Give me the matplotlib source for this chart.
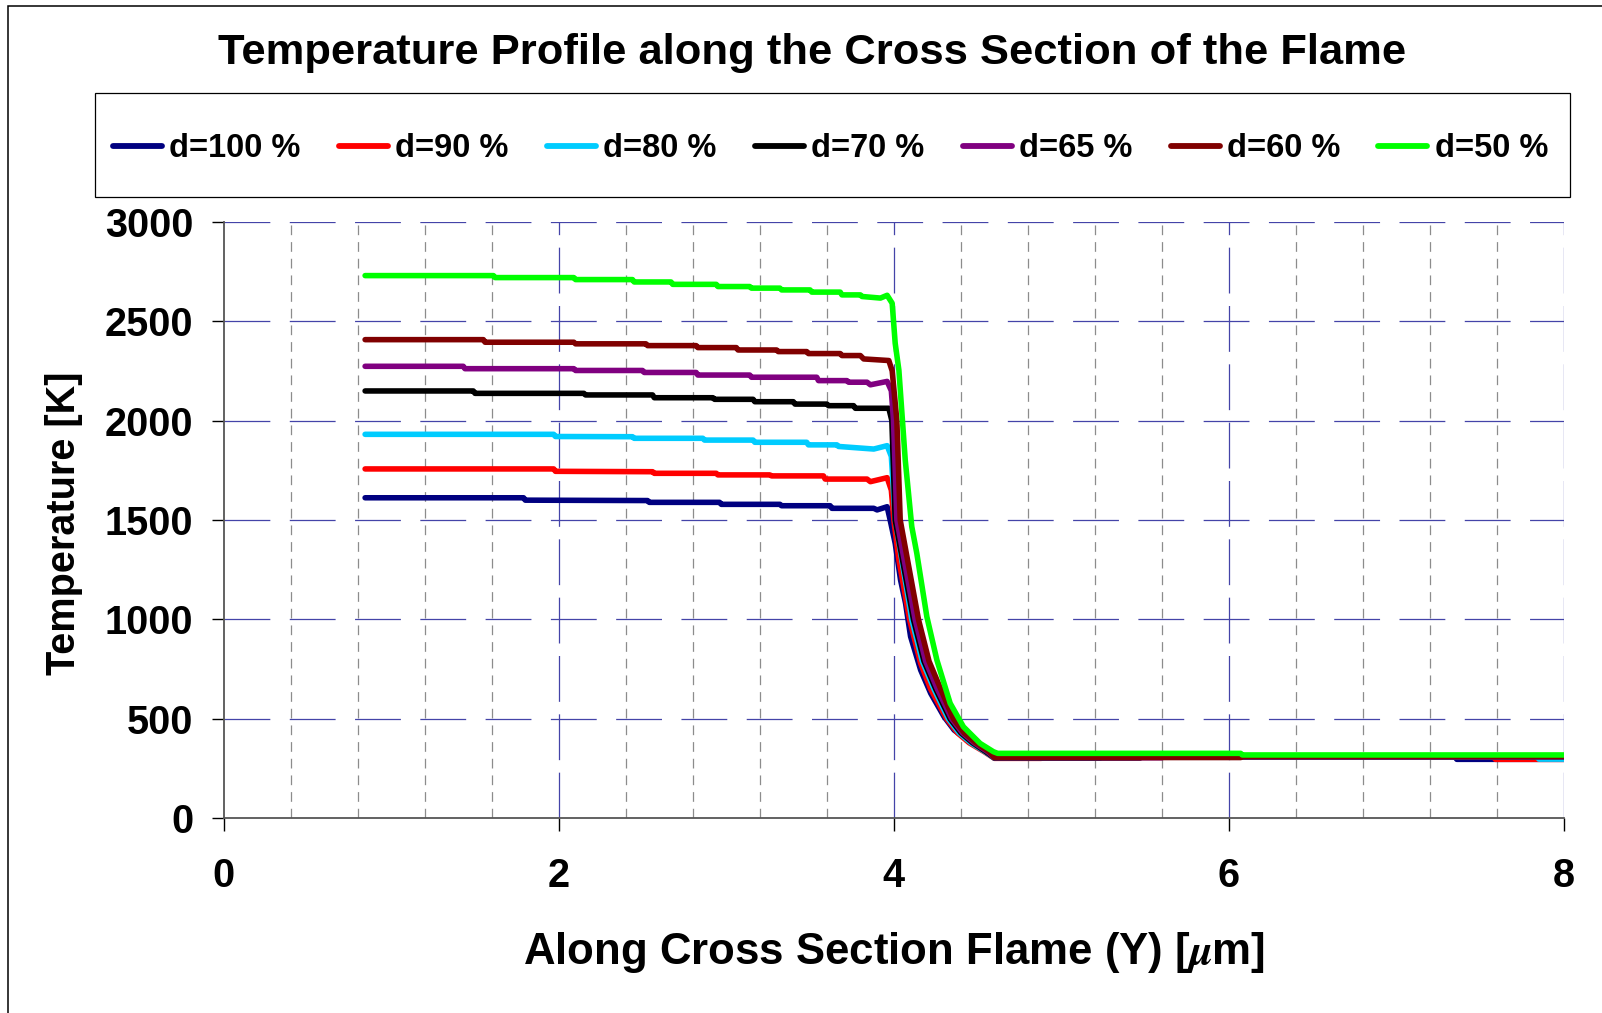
import matplotlib
matplotlib.use("Agg")
import matplotlib.pyplot as plt
from matplotlib.patches import Rectangle
from matplotlib.lines import Line2D

plt.rcParams['font.family'] = ['Liberation Sans', 'DejaVu Sans']
plt.rcParams['font.weight'] = 'bold'
plt.rcParams['mathtext.fontset'] = 'stix'
plt.rcParams['lines.scale_dashes'] = False

# ---- data: temperature profiles along the flame cross section ----
labels = ["d=100 %", "d=90 %", "d=80 %", "d=70 %", "d=65 %", "d=60 %", "d=50 %"]
colors = ["#000080", "#FF0000", "#00CCFF", "#000000", "#800080", "#800000", "#00FF00"]

y_d100 = [0.844, 1.79, 1.80, 2.53, 2.54, 2.96, 2.97, 3.32, 3.33, 3.62, 3.63, 3.88, 3.90, 3.96,
          3.978, 4.008, 4.04, 4.07, 4.10, 4.16, 4.22, 4.30, 4.36, 4.44, 4.535, 4.595, 7.35, 7.36, 8.0]
t_d100 = [1612, 1612, 1600, 1598, 1589, 1589, 1579, 1579, 1572, 1572, 1559, 1559, 1551, 1567,
          1500, 1383, 1199, 1081, 914, 746, 629, 511, 444, 394, 344, 310, 310, 297, 297]

y_d90 = [0.844, 1.97, 1.98, 2.56, 2.57, 2.94, 2.95, 3.26, 3.27, 3.58, 3.59, 3.84, 3.86, 3.96,
         3.985, 4.00, 4.03, 4.094, 4.16, 4.22, 4.316, 4.38, 4.45, 4.54, 4.60, 4.88, 4.89, 7.58, 7.59, 8.0]
t_d90 = [1757, 1757, 1745, 1743, 1735, 1735, 1727, 1727, 1722, 1722, 1706, 1706, 1693, 1713,
         1650, 1500, 1300, 1000, 780, 650, 500, 430, 380, 335, 302, 302, 310, 310, 297, 297]

y_d80 = [0.844, 1.97, 1.98, 2.44, 2.45, 2.86, 2.87, 3.16, 3.17, 3.48, 3.49, 3.66, 3.67, 3.88, 3.96,
         3.985, 4.008, 4.107, 4.17, 4.24, 4.326, 4.39, 4.46, 4.545, 4.60, 5.23, 5.24, 7.84, 7.85, 8.0]
t_d80 = [1931, 1931, 1920, 1919, 1911, 1911, 1902, 1902, 1891, 1891, 1878, 1878, 1870, 1857, 1874,
         1820, 1500, 1000, 790, 650, 500, 430, 380, 335, 303, 303, 310, 310, 298, 298]

y_d70 = [0.844, 1.49, 1.50, 2.15, 2.16, 2.56, 2.57, 2.92, 2.93, 3.16, 3.17, 3.40, 3.41, 3.60, 3.61,
         3.76, 3.77, 3.97, 3.988, 4.008, 4.117, 4.18, 4.25, 4.336, 4.40, 4.47, 4.55, 4.60, 5.47, 5.48, 8.0]
t_d70 = [2149, 2149, 2137, 2137, 2129, 2129, 2115, 2115, 2107, 2107, 2095, 2095, 2083, 2083, 2075,
         2075, 2062, 2062, 2000, 1500, 1000, 790, 650, 500, 430, 380, 335, 304, 304, 310, 310]

y_d65 = [0.844, 1.43, 1.44, 2.09, 2.10, 2.50, 2.51, 2.82, 2.83, 3.14, 3.15, 3.54, 3.55, 3.72, 3.73,
         3.84, 3.86, 3.96, 3.985, 3.998, 4.018, 4.127, 4.19, 4.26, 4.346, 4.41, 4.48, 4.56, 4.60,
         5.60, 5.61, 8.0]
t_d65 = [2273, 2273, 2261, 2261, 2252, 2252, 2242, 2242, 2229, 2229, 2218, 2218, 2201, 2201, 2193,
         2193, 2180, 2197, 2150, 2000, 1500, 1000, 790, 650, 500, 430, 380, 335, 305, 305, 310, 310]

y_d60 = [0.844, 1.55, 1.56, 2.09, 2.10, 2.52, 2.53, 2.82, 2.83, 3.06, 3.07, 3.30, 3.31, 3.48, 3.49,
         3.68, 3.69, 3.80, 3.82, 3.97, 3.99, 4.018, 4.038, 4.147, 4.21, 4.28, 4.356, 4.42, 4.49,
         4.57, 4.60, 6.07, 6.08, 8.0]
t_d60 = [2407, 2407, 2394, 2394, 2386, 2386, 2377, 2377, 2367, 2367, 2355, 2355, 2347, 2347, 2337,
         2337, 2327, 2327, 2310, 2302, 2250, 2000, 1500, 1000, 790, 650, 500, 430, 380, 335, 306,
         306, 312, 312]

y_d50 = [0.844, 1.61, 1.62, 2.09, 2.10, 2.44, 2.45, 2.67, 2.68, 2.94, 2.95, 3.14, 3.15, 3.32, 3.33,
         3.50, 3.51, 3.68, 3.69, 3.80, 3.81, 3.92, 3.96, 3.99, 4.008, 4.03, 4.068, 4.107, 4.137,
         4.197, 4.257, 4.336, 4.415, 4.515, 4.595, 4.62, 6.07, 6.08, 8.0]
t_d50 = [2729, 2729, 2719, 2719, 2709, 2709, 2697, 2697, 2685, 2685, 2674, 2674, 2666, 2666, 2657,
         2657, 2646, 2646, 2632, 2632, 2624, 2616, 2630, 2590, 2389, 2254, 1802, 1467, 1333,
         1014, 796, 579, 461, 377, 335, 327, 327, 319, 319]

series = [(y_d100, t_d100), (y_d90, t_d90), (y_d80, t_d80), (y_d70, t_d70),
          (y_d65, t_d65), (y_d60, t_d60), (y_d50, t_d50)]

x_major = [0, 2, 4, 6, 8]
x_minor = [0.4, 0.8, 1.2, 1.6, 2.4, 2.8, 3.2, 3.6, 4.4, 4.8, 5.2, 5.6, 6.4, 6.8, 7.2, 7.6]
y_major = [0, 500, 1000, 1500, 2000, 2500, 3000]

W, H = 1602, 1013
fig = plt.figure(figsize=(W / 100, H / 100), dpi=100)
fig.patch.set_facecolor("white")

# outer chart border (left and top edges visible)
fig.patches.append(Rectangle((7.5 / W, -0.1), 1.2, 1 - 6.5 / H + 0.1,
                             transform=fig.transFigure, fill=False,
                             edgecolor="black", linewidth=1.1))

ax = fig.add_axes([223.7 / W, 1 - 818.4 / H, (1564 - 223.7) / W, (818.4 - 221.7) / H])
ax.set_xlim(0, 8)
ax.set_ylim(0, 3000)

# grid lines
for xv in x_minor:
    ax.axvline(xv, color="#8C8C8C", lw=0.9, ls=(0, (7, 5)), zorder=1)
for xv in x_major[1:]:
    ax.axvline(xv, color="#4444A8", lw=0.9, ls=(0, (33, 9)), zorder=1)
for yv in y_major[1:]:
    ax.axhline(yv, color="#4444A8", lw=0.9, ls=(0, (33, 14)), zorder=1)

for (xs, ts), c in zip(series, colors):
    ax.plot(xs, ts, color=c, lw=4.0, solid_capstyle="round", solid_joinstyle="round", zorder=3)

for side in ("top", "right"):
    ax.spines[side].set_visible(False)
for side in ("left", "bottom"):
    ax.spines[side].set_color("#555555")
    ax.spines[side].set_linewidth(1.3)

ax.set_xticks(x_major)
ax.set_yticks(y_major)
ax.tick_params(axis="both", direction="out", length=9, width=1.0, color="black",
               labelsize=28.5)
ax.tick_params(axis="x", pad=19)
ax.tick_params(axis="y", pad=13)
for lab in ax.get_xticklabels() + ax.get_yticklabels():
    lab.set_fontweight("bold")

# axis titles
fig.text(894 / W, 1 - 952 / H, r"Along Cross Section Flame (Y) [$\mu$m]",
         ha="center", va="center", fontsize=31.5, fontweight="bold")
fig.text(64 / W, 1 - 523 / H, "Temperature [K]", rotation=90,
         ha="center", va="center", fontsize=28.5, fontweight="bold")

fig.text(0.507, 1 - 53 / H, "Temperature Profile along the Cross Section of the Flame",
         ha="center", va="center", fontsize=31.3, fontweight="bold")

# legend box
fig.patches.append(Rectangle((95 / W, 1 - 197 / H), (1570 - 95) / W, (197 - 93) / H,
                             transform=fig.transFigure, fill=False,
                             edgecolor="black", linewidth=0.9))
handles = [Line2D([], [], color=c, lw=4.2, solid_capstyle="round") for c in colors]
fig.legend(handles, labels, loc="center", ncol=7, frameon=False,
           bbox_to_anchor=(113 / W, 1 - 201 / H, (1548 - 113) / W, (197 - 93) / H),
           mode="expand", borderpad=0, borderaxespad=0,
           handlelength=1.5, handletextpad=0.22, columnspacing=0.5,
           prop={"weight": "bold", "size": 23.5})

fig.savefig("out.png", dpi=100, facecolor="white")
